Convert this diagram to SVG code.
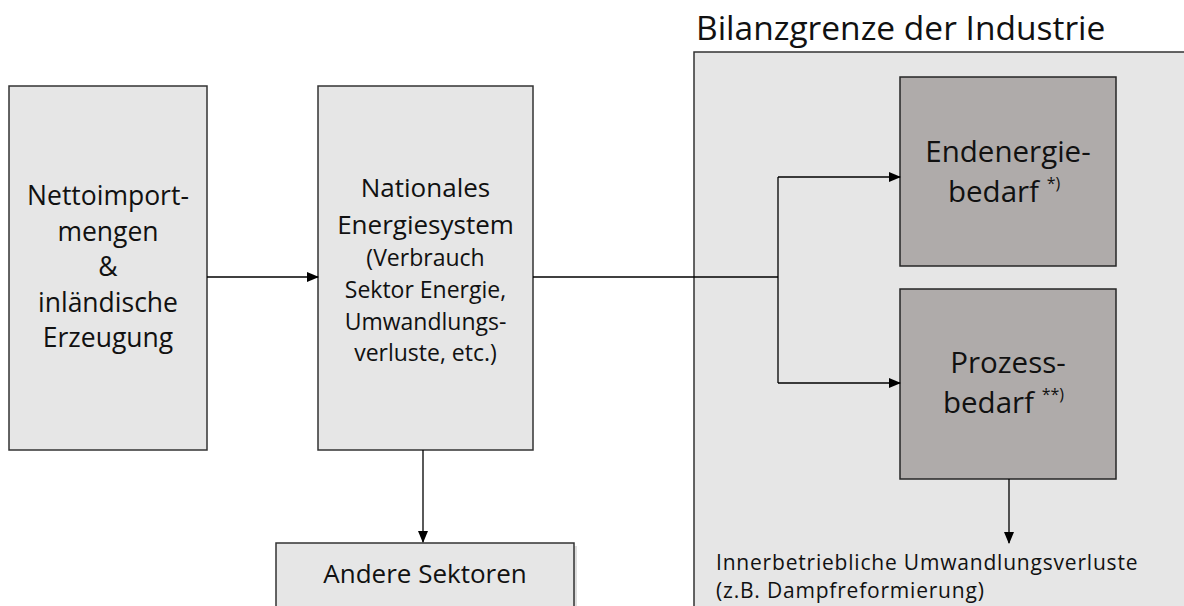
<svg xmlns="http://www.w3.org/2000/svg" width="1184" height="606" viewBox="0 0 1184 606">
<defs>
<marker id="arr" markerWidth="12" markerHeight="10" refX="11" refY="5" orient="auto" markerUnits="userSpaceOnUse">
<path d="M0,0 L12,5 L0,10 Z" fill="#000"/>
</marker>
</defs>
<style>
.box{fill:#e6e6e6;stroke:#333;stroke-width:1.5}
.dark{fill:#afabaa;stroke:#262626;stroke-width:1.5}
.panel{fill:#e6e6e6;stroke:#333;stroke-width:1.5}
text{font-family:"Open Sans","Liberation Sans",sans-serif;fill:#111}
.c{text-anchor:middle}
.conn{fill:none;stroke:#000;stroke-width:1.3}
</style>
<rect width="1184" height="606" fill="#fff"/>
<g id="industrie">
<rect class="panel" x="694" y="52" width="500" height="570"/>
<text x="696" y="40" font-size="33.5">Bilanzgrenze der Industrie</text>
</g>
<g id="netto">
<rect class="box" x="9" y="86" width="198" height="364"/>
<text class="c" x="108" y="205" font-size="26.5">Nettoimport-</text>
<text class="c" x="108" y="241" font-size="26.5">mengen</text>
<text class="c" x="108" y="276" font-size="26.5">&amp;</text>
<text class="c" x="108" y="312" font-size="26.5">inländische</text>
<text class="c" x="108" y="347" font-size="26.5">Erzeugung</text>
</g>
<g id="national">
<rect class="box" x="318" y="86" width="215" height="364"/>
<text class="c" x="425.5" y="197" font-size="26">Nationales</text>
<text class="c" x="425.5" y="234" font-size="26">Energiesystem</text>
<text class="c" x="425.5" y="266" font-size="23">(Verbrauch</text>
<text class="c" x="425.5" y="298" font-size="23">Sektor Energie,</text>
<text class="c" x="425.5" y="330" font-size="23">Umwandlungs-</text>
<text class="c" x="425.5" y="361" font-size="23">verluste, etc.)</text>
</g>
<g id="andere">
<rect x="279" y="546" width="298" height="70" fill="#c8c8c8" opacity="0.6"/>
<rect class="box" x="276" y="543" width="298" height="70"/>
<text class="c" x="425" y="583" font-size="26">Andere Sektoren</text>
</g>
<g id="endenergie">
<rect class="dark" x="900" y="77" width="216" height="189"/>
<text class="c" x="1008" y="162" font-size="29.5">Endenergie-</text>
<text x="948" y="202" font-size="29.5">bedarf <tspan font-size="16" dy="-13">*)</tspan></text>
</g>
<g id="prozess">
<rect class="dark" x="900" y="289" width="216" height="190"/>
<text class="c" x="1008" y="373" font-size="29.5">Prozess-</text>
<text x="943" y="413" font-size="29.5">bedarf <tspan font-size="16" dy="-13">**)</tspan></text>
</g>
<g id="verluste">
<text x="716" y="570" font-size="21" letter-spacing="0.8">Innerbetriebliche Umwandlungsverluste</text>
<text x="716" y="598" font-size="21" letter-spacing="0.8">(z.B. Dampfreformierung)</text>
</g>
<g id="connectors">
<line class="conn" x1="207" y1="277" x2="318" y2="277" marker-end="url(#arr)"/>
<line class="conn" x1="423" y1="450" x2="423" y2="542" marker-end="url(#arr)"/>
<polyline class="conn" points="533,277 778,277"/>
<polyline class="conn" points="778,177 778,383"/>
<line class="conn" x1="778" y1="177" x2="900" y2="177" marker-end="url(#arr)"/>
<line class="conn" x1="778" y1="383" x2="900" y2="383" marker-end="url(#arr)"/>
<line class="conn" x1="1009" y1="479" x2="1009" y2="543" marker-end="url(#arr)"/>
</g>
</svg>
